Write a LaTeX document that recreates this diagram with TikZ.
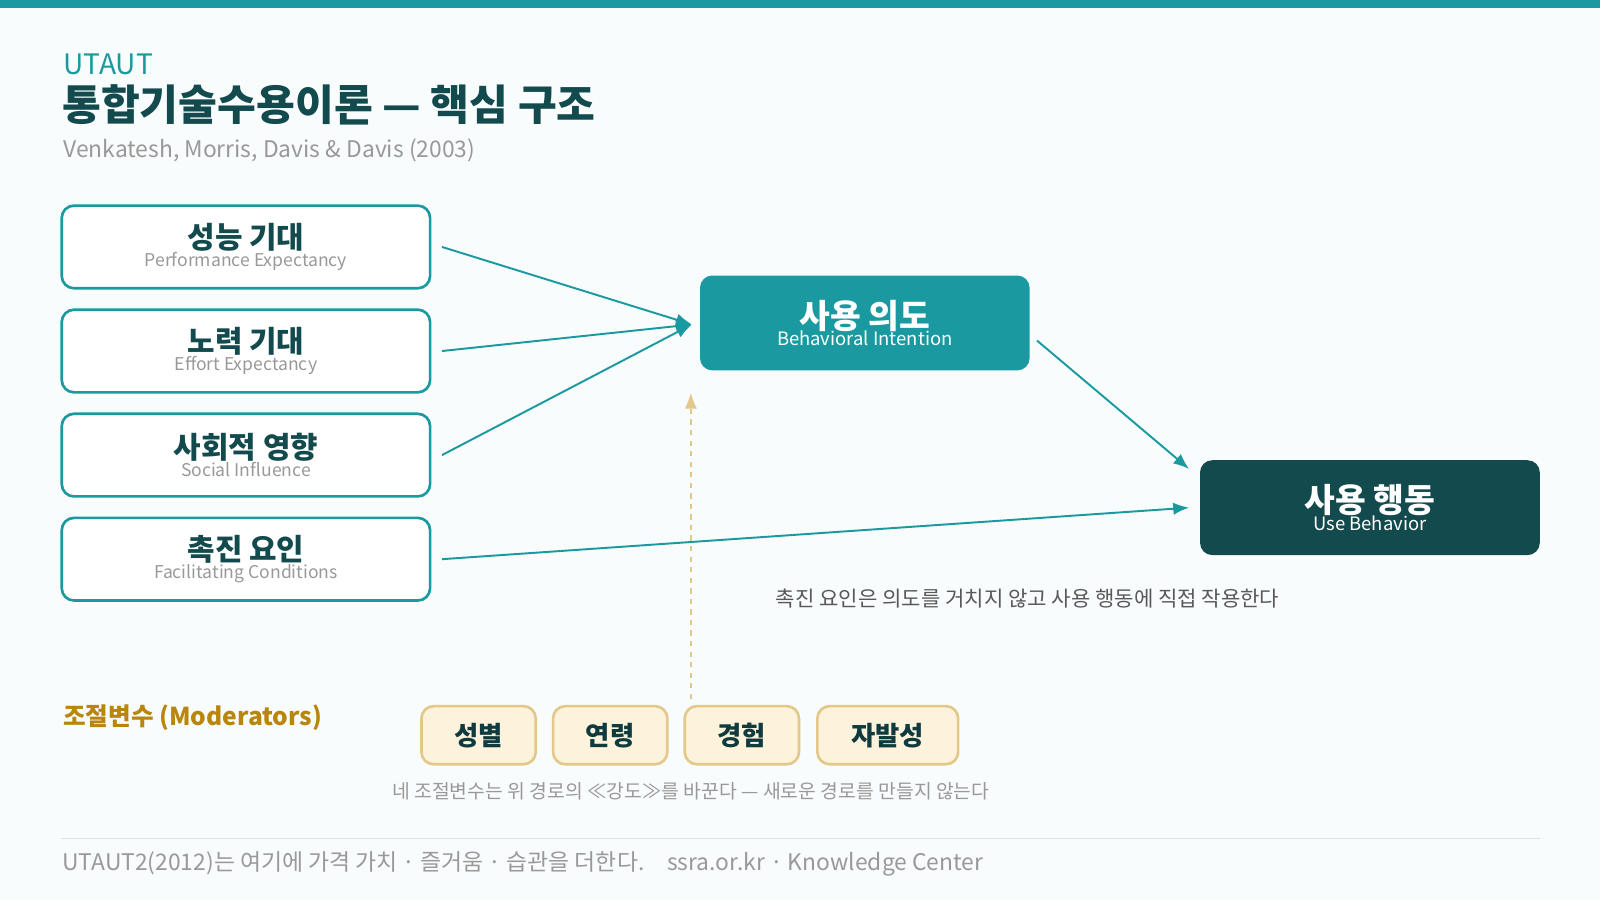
\documentclass[tikz,border=0pt]{standalone}
\usepackage{fontspec}
\setmainfont{Noto Sans CJK KR}
\usepackage{tikz}
\usetikzlibrary{arrows.meta,positioning}
\definecolor{teal1}{HTML}{1A9AA0}
\definecolor{teal2}{HTML}{134A4D}
\definecolor{tan1}{HTML}{E3C88A}
\definecolor{cream}{HTML}{FDF3DC}
\definecolor{gold}{HTML}{B8860B}
\definecolor{grey1}{HTML}{999999}
\begin{document}
\begin{tikzpicture}[x=0.020408cm,y=-0.020408cm,
    factor/.style={rectangle, draw=teal1, line width=1.5pt, fill=white, rounded corners=7pt, minimum width=361*0.020408cm, minimum height=81*0.020408cm, align=center},
    moder/.style={rectangle, draw=tan1, line width=1.5pt, fill=cream, rounded corners=7pt, minimum height=57*0.020408cm, font=\fontsize{15}{18}\selectfont\bfseries, text=teal2!80!black},
    arrow/.style={-{Latex[length=9pt,width=7pt]}, teal1, line width=1.1pt},
    note/.style={font=\fontsize{11}{13}\selectfont, text=grey1}
]
    % background and margins
    \fill[white!97!teal1] (0,0) rectangle (1568,882);
    \useasboundingbox (0,0) rectangle (1568,882);
    \fill[teal1] (0,0) rectangle (1568,8);

    % header
    \node[anchor=west, text=teal1, font=\fontsize{16}{18}\selectfont] (tag) at (56,63) {UTAUT};
    \node[anchor=west, text=teal2, font=\fontsize{24}{28}\selectfont\bfseries] (title) at (55,103) {통합기술수용이론 — 핵심 구조};
    \node[anchor=west, text=grey1, font=\fontsize{13}{15}\selectfont] (cite) at (56,147) {Venkatesh, Morris, Davis \& Davis (2003)};

    % four determinants
    \node[factor] (pe) at (241,242) {{\fontsize{17}{20}\selectfont\bfseries\color{teal2}성능 기대}\\[-2pt]{\fontsize{10}{12}\selectfont\color{grey1}Performance Expectancy}};
    \node[factor] (ee) at (241,344) {{\fontsize{17}{20}\selectfont\bfseries\color{teal2}노력 기대}\\[-2pt]{\fontsize{10}{12}\selectfont\color{grey1}Effort Expectancy}};
    \node[factor] (si) at (241,446) {{\fontsize{17}{20}\selectfont\bfseries\color{teal2}사회적 영향}\\[-2pt]{\fontsize{10}{12}\selectfont\color{grey1}Social Influence}};
    \node[factor] (fc) at (241,548) {{\fontsize{17}{20}\selectfont\bfseries\color{teal2}촉진 요인}\\[-2pt]{\fontsize{10}{12}\selectfont\color{grey1}Facilitating Conditions}};

    % intention and behaviour
    \node[rectangle, fill=teal1, rounded corners=7pt, minimum width=323*0.020408cm, minimum height=93*0.020408cm, align=center, text=white] (bi) at (847.5,316.5) {{\fontsize{19}{22}\selectfont\bfseries 사용 의도}\\[-2pt]{\fontsize{10.5}{12}\selectfont Behavioral Intention}};
    \node[rectangle, fill=teal2, rounded corners=7pt, minimum width=333*0.020408cm, minimum height=93*0.020408cm, align=center, text=white] (ub) at (1342.5,497.5) {{\fontsize{19}{22}\selectfont\bfseries 사용 행동}\\[-2pt]{\fontsize{10.5}{12}\selectfont Use Behavior}};

    \coordinate (biin) at (678,318);
    \draw[arrow] ([xshift=6pt]pe.east) -- (biin);
    \draw[arrow] ([xshift=6pt]ee.east) -- (biin);
    \draw[arrow] ([xshift=6pt]si.east) -- (biin);
    \draw[arrow] ([xshift=4pt,yshift=-10pt]bi.east) -- ([xshift=-6pt,yshift=22pt]ub.west);
    \draw[arrow] ([xshift=6pt]fc.east) -- ([xshift=-6pt]ub.west);
    \node[note, font=\fontsize{12}{14}\selectfont, text=black!65] (fcnote) at (1007,587) {촉진 요인은 의도를 거치지 않고 사용 행동에 직접 작용한다};

    % moderators
    \node[anchor=west, text=gold, font=\fontsize{14}{16}\selectfont\bfseries] (modlab) at (56,703) {조절변수 (Moderators)};
    \node[moder, minimum width=112*0.020408cm] (gen) at (469,720.5) {성별};
    \node[moder, minimum width=112*0.020408cm] (age) at (598,720.5) {연령};
    \node[moder, minimum width=112*0.020408cm] (exp) at (727,720.5) {경험};
    \node[moder, minimum width=138*0.020408cm] (vol) at (870,720.5) {자발성};
    \coordinate (modtop) at (677,685);
    \draw[-{Latex[length=9pt,width=7pt]}, tan1, dashed, line width=1pt] (modtop) -- (677,385);
    \node[note] (modnote) at (677,775) {네 조절변수는 위 경로의 ≪강도≫를 바꾼다 — 새로운 경로를 만들지 않는다};

    % footer
    \draw[black!12, line width=0.8pt] (60,822) -- (1509,822);
    \node[anchor=west, note, font=\fontsize{13}{15}\selectfont] (foot) at (55,847) {UTAUT2(2012)는 여기에 가격 가치 · 즐거움 · 습관을 더한다.\quad ssra.or.kr · Knowledge Center};
\end{tikzpicture}
\end{document}
